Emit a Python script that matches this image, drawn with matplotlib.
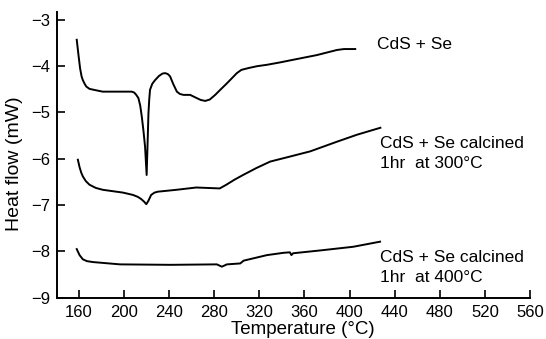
import numpy as np
import matplotlib
matplotlib.use('Agg')
import matplotlib.pyplot as plt

# CdS + Se (as mixed)
t_mix = [158, 159.5, 161, 162.3, 163.4, 165, 166.5, 169.3, 175, 181, 195, 206.8, 209, 210.8, 212.7,
         214.3, 215.7, 217.2, 218.6, 220, 220.8, 221.6, 222.3, 223, 225, 227.5, 231, 234, 236.4,
         238.8, 240.8, 243.5, 246.8, 249.5, 252.7, 258.6, 264.5, 268, 272, 276, 280.8, 285.3,
         291.2, 296, 300, 304, 310.4, 318, 326.7, 338, 350.3, 371, 388.8, 395, 405]
hf_mix = [-3.43, -3.75, -4.05, -4.22, -4.30, -4.38, -4.44, -4.49, -4.52, -4.55, -4.55, -4.55, -4.57, -4.62, -4.69,
          -4.85, -5.09, -5.40, -5.74, -6.35, -5.70, -5.02, -4.72, -4.51, -4.38, -4.30, -4.21, -4.16, -4.15,
          -4.17, -4.22, -4.38, -4.55, -4.60, -4.62, -4.62, -4.69, -4.73, -4.75, -4.72, -4.62, -4.51,
          -4.37, -4.25, -4.15, -4.08, -4.04, -4.00, -3.97, -3.92, -3.86, -3.76, -3.65, -3.63, -3.63]

# calcined 1 hr at 300 C
t_300 = [159, 160.5, 162, 163.4, 166, 169.3, 175, 181.2, 199, 207.8, 212, 215.2, 217.5, 219.7, 221.5,
         224, 227, 230, 246.3, 264, 284.8, 290.7, 298, 305.5, 317.3, 329.6, 347.4, 365, 388.9, 406.6, 427.3]
hf_300 = [-6.02, -6.18, -6.30, -6.38, -6.48, -6.56, -6.63, -6.67, -6.73, -6.78, -6.82, -6.87, -6.92, -6.98, -6.91,
          -6.78, -6.73, -6.71, -6.67, -6.62, -6.64, -6.56, -6.45, -6.35, -6.20, -6.06, -5.95, -5.84, -5.63, -5.48, -5.33]

# calcined 1 hr at 400 C
t_400 = [158, 160.5, 163.4, 167, 172.3, 196.4, 240.8, 282.3, 286.7, 291.2, 303, 306, 326.7,
         341.5, 347, 348.4, 349.9, 373.6, 403.2, 427]
hf_400 = [-7.95, -8.08, -8.17, -8.21, -8.23, -8.28, -8.29, -8.28, -8.33, -8.28, -8.26, -8.20, -8.08,
          -8.03, -8.02, -8.08, -8.04, -7.98, -7.90, -7.79]

xticks = np.arange(160, 561, 40)
yticks = np.arange(-9, -2, 1)

plt.rcParams['font.family'] = ['Liberation Sans', 'DejaVu Sans']
plt.rcParams['font.size'] = 12

fig = plt.figure(figsize=(5.46, 3.39), dpi=100)
ax = fig.add_axes([0.1044, 0.1218, 0.8663, 0.8428])

ax.plot(t_mix, hf_mix, color='black', linewidth=1.4)
ax.plot(t_300, hf_300, color='black', linewidth=1.4)
ax.plot(t_400, hf_400, color='black', linewidth=1.4)

ax.text(424.4, -3.54, 'CdS + Se', va='center', ha='left', fontsize=12.5)
ax.text(427.3, -5.68, 'CdS + Se calcined', va='center', ha='left', fontsize=12.5)
ax.text(427.3, -6.10, '1hr  at 300°C', va='center', ha='left', fontsize=12.5)
ax.text(427.3, -8.13, 'CdS + Se calcined', va='center', ha='left', fontsize=12.5)
ax.text(427.3, -8.56, '1hr  at 400°C', va='center', ha='left', fontsize=12.5)

ax.set_xlim(140.5, 560)
ax.set_ylim(-9, -2.83)
ax.set_xticks(xticks)
ax.set_yticks(yticks)
ax.tick_params(axis='both', direction='in', length=6, width=1.2, pad=5)
ax.spines['top'].set_visible(False)
ax.spines['right'].set_visible(False)
ax.spines['left'].set_linewidth(1.4)
ax.spines['bottom'].set_linewidth(1.4)

ax.set_xlabel('Temperature (°C)', fontsize=13.5)
ax.xaxis.set_label_coords(0.52, -0.083)
ax.set_ylabel('Heat flow (mW)', fontsize=14)
ax.yaxis.set_label_coords(-0.072, 0.47)

fig.savefig('out.png', dpi=100)
